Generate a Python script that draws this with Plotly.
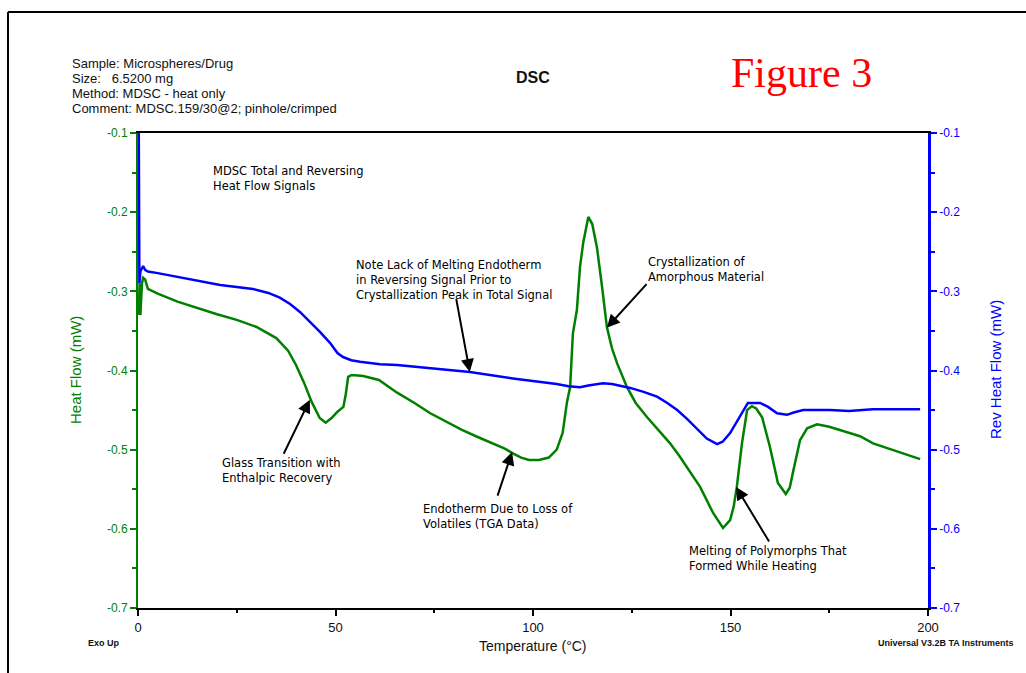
import plotly.graph_objects as go

# Total heat flow (green, left axis)
temp_total = [0.2, 0.4, 0.6, 0.8, 1.0, 1.3, 1.8, 2.5, 5, 10, 15, 20, 25, 30, 35, 38, 40, 42, 44, 46,
              47.5, 49, 50.5, 52, 52.6, 53.2, 54, 55, 57, 61, 65.6, 70, 74, 78, 82, 86, 90, 93, 95, 97,
              99, 101.5, 104, 106, 107.5, 108.6, 109.4, 110.1, 111.1, 111.9, 112.7, 114, 115, 116.2,
              117.5, 118.7, 120, 121.3, 123.8, 126, 128.9, 131.5, 134.7, 137.2, 140.5, 142.3, 145.6,
              148.1, 149.9, 150.8, 151.6, 152.9, 154.2, 155.4, 156.5, 158, 160, 162, 164, 165, 165.8,
              167.6, 169.4, 171.9, 175, 177.7, 180, 182.8, 186.1, 189, 192.2, 195, 198]
heat_flow = [-0.33, -0.29, -0.33, -0.30, -0.29, -0.283, -0.285, -0.297, -0.303, -0.313, -0.321, -0.329,
             -0.336, -0.345, -0.359, -0.375, -0.393, -0.415, -0.440, -0.460, -0.466, -0.460, -0.452,
             -0.446, -0.430, -0.408, -0.406, -0.406, -0.407, -0.412, -0.428, -0.441, -0.454, -0.465,
             -0.475, -0.484, -0.492, -0.499, -0.505, -0.510, -0.513, -0.513, -0.510, -0.500, -0.479,
             -0.440, -0.421, -0.353, -0.324, -0.269, -0.239, -0.206, -0.215, -0.245, -0.295, -0.345,
             -0.372, -0.391, -0.421, -0.441, -0.459, -0.474, -0.492, -0.509, -0.534, -0.547, -0.580,
             -0.599, -0.589, -0.572, -0.547, -0.492, -0.450, -0.445, -0.448, -0.459, -0.497, -0.542,
             -0.556, -0.548, -0.529, -0.488, -0.473, -0.468, -0.471, -0.475, -0.478, -0.483, -0.492,
             -0.497, -0.503, -0.507, -0.512]

# Reversing heat flow (blue, right axis)
temp_rev = [0.2, 0.35, 0.6, 1.0, 1.3, 1.8, 2.5, 5, 12.4, 20.8, 29.1, 33, 35.9, 38.5, 41, 43.5, 46, 48.6,
            50.5, 51.9, 54, 56.2, 61.3, 65.6, 73.9, 84, 94.9, 101, 106, 109, 111.9, 114, 117.7, 120,
            124.6, 128, 131.4, 134, 136.5, 139, 141.5, 144, 146.6, 148, 149.9, 151.5, 152.9, 154.4,
            157.5, 159.5, 161.8, 164.3, 166, 168.4, 175.2, 180, 186, 198]
rev_heat_flow = [-0.1, -0.29, -0.275, -0.27, -0.268, -0.273, -0.275, -0.277, -0.284, -0.292, -0.297,
                 -0.302, -0.308, -0.316, -0.326, -0.338, -0.351, -0.365, -0.378, -0.383, -0.387, -0.389,
                 -0.392, -0.393, -0.397, -0.402, -0.410, -0.414, -0.417, -0.420, -0.421, -0.419, -0.416,
                 -0.417, -0.422, -0.427, -0.433, -0.441, -0.450, -0.461, -0.474, -0.486, -0.493, -0.490,
                 -0.479, -0.466, -0.454, -0.441, -0.441, -0.446, -0.454, -0.456, -0.453, -0.450, -0.450,
                 -0.451, -0.449, -0.449]

x_ticks = [0, 50, 100, 150, 200]
y_ticks = [-0.1, -0.2, -0.3, -0.4, -0.5, -0.6, -0.7]
y_tick_text = ["-0.1", "-0.2", "-0.3", "-0.4", "-0.5", "-0.6", "-0.7"]

header_lines = ["Sample: Microspheres/Drug",
                "Size:\u00a0\u00a0\u00a06.5200 mg",
                "Method: MDSC - heat only",
                "Comment: MDSC.159/30@2; pinhole/crimped"]

# (text, x, y, arrow head x, arrow head y, arrow tail x, arrow tail y)
notes = [
    ("MDSC Total and Reversing<br>Heat Flow Signals", 18.4, -0.157, None, None, None, None),
    ("Note Lack of Melting Endotherm<br>in Reversing Signal Prior to<br>Crystallization Peak in Total Signal",
     54.6, -0.2857, 84.0, -0.402, 80.5, -0.308),
    ("Crystallization of<br>Amorphous Material", 128.6, -0.2718, 118.7, -0.346, 129.1, -0.289),
    ("Glass Transition with<br>Enthalpic Recovery", 20.7, -0.5257, 43.5, -0.437, 36.7, -0.507),
    ("Endotherm Due to Loss of<br>Volatiles (TGA Data)", 71.6, -0.5838, 94.7, -0.503, 90.9, -0.560),
    ("Melting of Polymorphs That<br>Formed While Heating", 138.9, -0.6375, 151.4, -0.547, 160.0, -0.618),
]

GREEN = "#008000"
BLUE = "#0000ff"
W, H = 1026, 673
L, R, T, B = 138, 98, 133, 65


def px_x(p):
    return (p - L) / (W - L - R)


def px_y(p):
    return (H - B - p) / (H - T - B)


fig = go.Figure()
fig.add_trace(go.Scatter(x=temp_total, y=heat_flow, mode="lines",
                         line=dict(color=GREEN, width=2.5), yaxis="y", showlegend=False))
fig.add_trace(go.Scatter(x=temp_rev, y=rev_heat_flow, mode="lines",
                         line=dict(color=BLUE, width=2.5), yaxis="y2", showlegend=False))

annotations = []
for i, line in enumerate(header_lines):
    annotations.append(dict(text=line, xref="paper", yref="paper", x=px_x(70), y=px_y(63 + i * 15.3),
                            xanchor="left", yanchor="middle", showarrow=False,
                            font=dict(family="Liberation Sans, Arial", size=13, color="#111")))

annotations.append(dict(text="<b>DSC</b>", xref="paper", yref="paper", x=px_x(533), y=px_y(77),
                        xanchor="center", yanchor="middle", showarrow=False,
                        font=dict(family="Liberation Sans, Arial", size=16, color="#111")))
annotations.append(dict(text="Figure 3", xref="paper", yref="paper", x=px_x(801), y=px_y(73),
                        xanchor="center", yanchor="middle", showarrow=False,
                        font=dict(family="Liberation Serif, Times New Roman", size=42, color="#ff0000")))
annotations.append(dict(text="Heat Flow (mW)", xref="paper", yref="paper", x=px_x(75), y=px_y(370),
                        xanchor="center", yanchor="middle", textangle=-90, showarrow=False,
                        font=dict(family="Liberation Sans, Arial", size=15, color=GREEN)))
annotations.append(dict(text="Rev Heat Flow (mW)", xref="paper", yref="paper", x=px_x(995), y=px_y(370),
                        xanchor="center", yanchor="middle", textangle=-90, showarrow=False,
                        font=dict(family="Liberation Sans, Arial", size=15, color=BLUE)))
annotations.append(dict(text="Temperature (°C)", xref="paper", yref="paper", x=px_x(533), y=px_y(646),
                        xanchor="center", yanchor="middle", showarrow=False,
                        font=dict(family="Liberation Sans, Arial", size=14, color="#111")))
annotations.append(dict(text="<b>Exo Up</b>", xref="paper", yref="paper", x=px_x(86), y=px_y(643),
                        xanchor="left", yanchor="middle", showarrow=False,
                        font=dict(family="Liberation Sans, Arial", size=9, color="#111")))
annotations.append(dict(text="<b>Universal V3.2B TA Instruments</b>", xref="paper", yref="paper",
                        x=px_x(876), y=px_y(643), xanchor="left", yanchor="middle", showarrow=False,
                        font=dict(family="Liberation Sans, Arial", size=9, color="#111")))

for text, tx, ty, hx, hy, sx, sy in notes:
    annotations.append(dict(text=text, x=tx, y=ty, xref="x", yref="y", xanchor="left", yanchor="middle",
                            align="left", showarrow=False,
                            font=dict(family="DejaVu Sans, Verdana", size=11.5, color="#000")))
    if hx is not None:
        annotations.append(dict(text="", x=hx, y=hy, xref="x", yref="y", ax=sx, ay=sy, axref="x", ayref="y",
                                showarrow=True, arrowhead=2, arrowsize=1.3, arrowwidth=2, arrowcolor="#000"))

shapes = [
    dict(type="line", xref="paper", yref="paper", x0=px_x(8), x1=px_x(8), y0=px_y(12), y1=px_y(680),
         line=dict(color="#000", width=2)),
    dict(type="line", xref="paper", yref="paper", x0=px_x(8), x1=px_x(1030), y0=px_y(12), y1=px_y(12),
         line=dict(color="#000", width=2)),
]

fig.update_layout(
    width=W, height=H,
    margin=dict(l=L, r=R, t=T, b=B),
    paper_bgcolor="white", plot_bgcolor="white",
    annotations=annotations, shapes=shapes,
    xaxis=dict(range=[0, 200], tickvals=x_ticks, showgrid=False, zeroline=False,
               showline=True, linecolor="#000", linewidth=2, mirror=True,
               ticks="outside", ticklen=6, tickwidth=2, tickcolor="#000",
               minor=dict(tickvals=[25, 75, 125, 175], ticks="outside", ticklen=3, tickwidth=2, tickcolor="#000"),
               tickfont=dict(family="Liberation Sans, Arial", size=13, color="#111")),
    yaxis=dict(range=[-0.7, -0.1], tickvals=y_ticks, ticktext=y_tick_text, showgrid=False, zeroline=False,
               showline=True, linecolor=GREEN, linewidth=2,
               ticks="outside", ticklen=6, tickwidth=2, tickcolor=GREEN,
               minor=dict(tickvals=[-0.15, -0.25, -0.35, -0.45, -0.55, -0.65], ticks="outside",
                          ticklen=4, tickwidth=2, tickcolor=GREEN),
               tickfont=dict(family="Liberation Sans, Arial", size=12, color=GREEN)),
    yaxis2=dict(range=[-0.7, -0.1], tickvals=y_ticks, ticktext=y_tick_text, overlaying="y", side="right",
                showgrid=False, zeroline=False, showline=True, linecolor=BLUE, linewidth=2.5,
                ticks="outside", ticklen=6, tickwidth=2, tickcolor=BLUE,
                minor=dict(tickvals=[-0.15, -0.25, -0.35, -0.45, -0.55, -0.65], ticks="outside",
                           ticklen=4, tickwidth=2, tickcolor=BLUE),
                tickfont=dict(family="Liberation Sans, Arial", size=12, color=BLUE)),
)

fig.write_html("out.html")
